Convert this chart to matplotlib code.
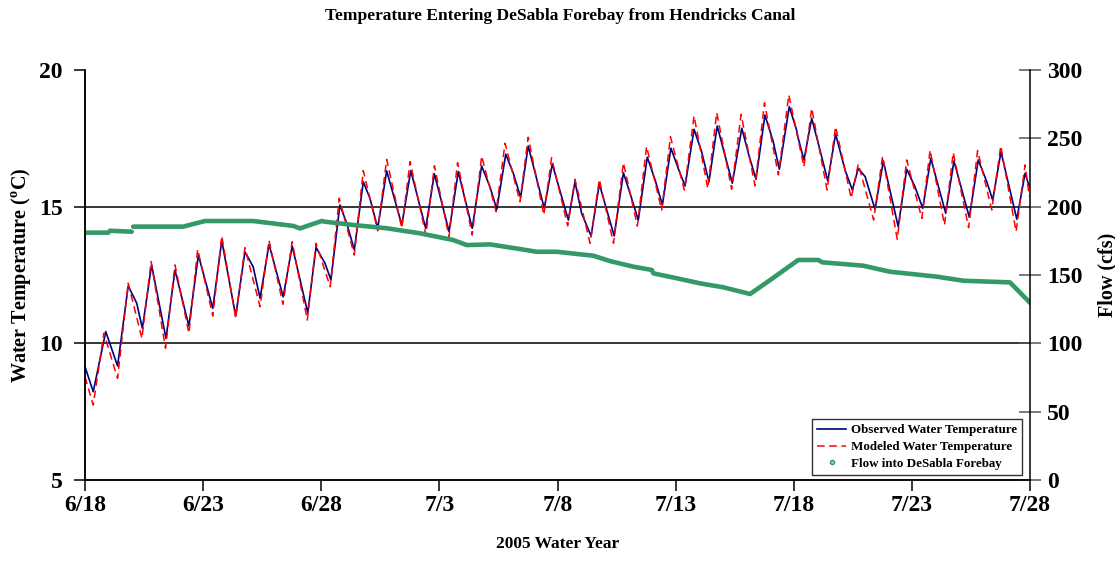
import numpy as np
import matplotlib
matplotlib.use('Agg')
import matplotlib.pyplot as plt
from matplotlib.lines import Line2D

plt.rcParams['font.family'] = ['Liberation Serif', 'DejaVu Serif']
plt.rcParams['font.weight'] = 'bold'
plt.rcParams['axes.labelweight'] = 'bold'
plt.rcParams['mathtext.fontset'] = 'custom'
plt.rcParams['mathtext.rm'] = 'Liberation Serif:bold'

# days since 6/18/2005 - daily peaks, troughs and shoulders
obs_day = [0.00, 0.35, 0.88, 1.38, 1.83, 2.19, 2.43, 2.82, 3.43, 3.81, 4.40, 4.80,
           5.41, 5.79, 6.38, 6.77, 7.12, 7.41, 7.79, 8.39, 8.77, 9.43, 9.78, 10.16,
           10.41, 10.79, 11.08, 11.40, 11.78, 12.06, 12.39, 12.77, 13.41, 13.79, 14.42,
           14.79, 15.41, 15.80, 16.39, 16.79, 17.14, 17.43, 17.81, 18.13, 18.44, 18.76,
           19.44, 19.78, 20.46, 20.74, 21.02, 21.42, 21.77, 22.40, 22.79, 23.07, 23.42,
           23.80, 24.13, 24.44, 24.80, 25.11, 25.40, 25.78, 26.10, 26.41, 26.76, 27.40,
           27.80, 28.08, 28.40, 28.78, 29.13, 29.39, 29.81, 30.12, 30.19, 30.43, 30.76,
           31.11, 31.44, 31.77, 32.17, 32.48, 32.73, 33.02, 33.44, 33.79, 34.42, 34.78,
           35.13, 35.46, 35.80, 36.43, 36.78, 37.43, 37.81, 38.17, 38.42, 38.77, 39.44,
           39.79, 39.97]
obs_temp = [9.15, 8.23, 10.43, 9.17, 12.10, 11.47, 10.55, 12.87, 10.18, 12.68, 10.63, 13.23,
            11.28, 13.76, 11.00, 13.35, 12.80, 11.65, 13.62, 11.70, 13.56, 11.12, 13.51, 12.93,
            12.32, 15.06, 14.39, 13.42, 15.91, 15.31, 14.21, 16.31, 14.33, 16.32, 14.21,
            16.20, 14.09, 16.28, 14.21, 16.49, 15.73, 14.90, 16.92, 16.22, 15.34, 17.22,
            14.94, 16.56, 14.51, 15.91, 14.76, 13.93, 15.83, 13.93, 16.24, 15.49, 14.51,
            16.81, 15.98, 15.06, 17.14, 16.40, 15.76, 17.83, 17.01, 15.91, 17.95, 15.86,
            17.87, 16.95, 16.00, 18.35, 17.38, 16.37, 18.66, 17.80, 17.50, 16.71, 18.23,
            17.07, 15.94, 17.66, 16.34, 15.61, 16.40, 16.10, 14.90, 16.67, 14.27, 16.37,
            15.73, 14.94, 16.77, 14.76, 16.67, 14.61, 16.71, 15.91, 15.24, 17.01, 14.54,
            16.22, 15.73]

mod_day = [0.00, 0.35, 0.80, 1.38, 1.83, 2.41, 2.80, 3.41, 3.81, 4.40, 4.77, 5.41,
           5.79, 6.38, 6.77, 7.41, 7.79, 8.38, 8.77, 9.41, 9.78, 10.38, 10.76, 11.40,
           11.78, 12.39, 12.77, 13.41, 13.76, 14.43, 14.79, 15.41, 15.77, 16.39, 16.79,
           17.40, 17.78, 18.41, 18.76, 19.42, 19.75, 20.43, 20.74, 21.38, 21.77, 22.37,
           22.79, 23.38, 23.77, 24.41, 24.78, 25.37, 25.78, 26.36, 26.74, 27.37, 27.77,
           28.36, 28.76, 29.35, 29.79, 30.43, 30.76, 31.41, 31.77, 32.43, 32.73, 33.38,
           33.76, 34.38, 34.78, 35.42, 35.77, 36.38, 36.75, 37.40, 37.78, 38.38, 38.76,
           39.41, 39.79, 39.97]
mod_temp = [8.78, 7.74, 10.37, 8.72, 12.20, 10.18, 12.99, 9.82, 12.87, 10.37, 13.44, 11.00,
            13.93, 10.92, 13.50, 11.34, 13.76, 11.43, 13.72, 10.85, 13.66, 12.07, 15.31, 13.23,
            16.32, 14.12, 16.73, 14.21, 16.65, 13.96, 16.50, 13.90, 16.61, 13.96, 16.85,
            14.82, 17.32, 15.18, 17.54, 14.70, 16.79, 14.30, 16.00, 13.66, 16.00, 13.66,
            16.61, 14.29, 17.20, 14.88, 17.56, 15.61, 18.32, 15.67, 18.44, 15.64, 18.38,
            15.76, 18.80, 16.16, 19.09, 16.46, 18.60, 15.61, 17.93, 15.31, 16.56, 14.51,
            16.85, 13.81, 16.71, 14.57, 17.07, 14.33, 16.98, 14.23, 17.05, 14.88, 17.22,
            14.09, 16.53, 15.37]

flow_day = [0.00, 0.99, 1.06, 1.98, 2.01, 2.04, 4.16, 5.08, 7.12, 8.82, 9.10, 10.02,
            10.16, 11.36, 12.77, 14.18, 15.59, 16.16, 17.14, 18.41, 19.12, 19.97, 21.52,
            22.22, 23.21, 23.99, 24.06, 25.05, 26.03, 27.02, 28.15, 29.00, 30.19, 31.04,
            31.20, 32.94, 34.07, 36.05, 37.18, 39.15, 40.00]
flow_cfs = [181.0, 181.0, 182.4, 181.7, np.nan, 185.4, 185.4, 189.5, 189.5, 185.9, 184.1, 189.5,
            189.0, 186.6, 184.2, 180.5, 175.6, 171.9, 172.4, 169.0, 167.0, 167.0, 164.1,
            160.2, 156.1, 153.7, 151.2, 147.6, 143.9, 141.0, 136.1, 146.3, 161.0, 161.0,
            159.3, 156.8, 152.4, 148.8, 145.8, 144.6, 129.7]

tick_labels = ['6/18', '6/23', '6/28', '7/3', '7/8', '7/13', '7/18', '7/23', '7/28']

fig = plt.figure(figsize=(11.15, 5.61), dpi=100)
ax = fig.add_axes([0.0762, 0.1444, 0.8476, 0.7308])
ax2 = ax.twinx()

ax.plot(obs_day, obs_temp, color='#000080', lw=1.2, solid_joinstyle='round')
ax.plot(mod_day, mod_temp, color='#ff0000', lw=1.1, ls=(0, (5, 3)))
ax2.plot(flow_day, flow_cfs, color='#339966', lw=3.3, solid_capstyle='round')

ax.set_xlim(0, 40)
ax.set_ylim(5, 20)
ax2.set_ylim(0, 300)
ax.set_xticks(np.arange(0, 41, 5))
ax.set_xticklabels(tick_labels)
ax.set_yticks([5, 10, 15, 20])
ax2.set_yticks(np.arange(0, 301, 50))

ax.grid(axis='y', color='black', lw=1.1)
yt = ax.yaxis.get_major_ticks()
yt[0].gridline.set_visible(False)
yt[-1].gridline.set_visible(False)

for a in (ax, ax2):
    a.spines['top'].set_visible(False)
    for s in a.spines.values():
        s.set_linewidth(1.1)
ax.spines['right'].set_visible(False)

ax.tick_params(axis='both', labelsize=17, length=8, width=1.1)
ax.tick_params(axis='x', pad=3)
ax.tick_params(axis='y', pad=8)
ax2.tick_params(axis='y', labelsize=17, direction='inout', length=16, width=1.1, pad=4,
                color='#555555')

ax.set_ylabel('Water Temperature ($^{\\rm o}$C)', fontsize=14.5)
ax.yaxis.set_label_coords(-0.055, 0.5)
ax2.set_ylabel('Flow (cfs)', fontsize=14.5)
ax2.yaxis.set_label_coords(1.071, 0.5)
ax.set_xlabel('2005 Water Year', fontsize=12.5, labelpad=14)
fig.suptitle('Temperature Entering DeSabla Forebay from Hendricks Canal', fontsize=12.5,
             fontweight='bold', x=0.502, y=0.985)

handles = [Line2D([], [], color='#000080', lw=1.2),
           Line2D([], [], color='#ff0000', lw=1.1, ls=(0, (5, 3))),
           Line2D([], [], color='#339966', marker='o', ls='none', ms=3, mfc='#a0d0b0')]
labels = ['Observed Water Temperature', 'Modeled Water Temperature', 'Flow into DeSabla Forebay']
leg = ax2.legend(handles, labels, loc='lower right', bbox_to_anchor=(0.992, 0.012),
                 borderaxespad=0, fontsize=9.4, fancybox=False, framealpha=1,
                 edgecolor='#333333', handlelength=2.2, handletextpad=0.4,
                 labelspacing=0.35, borderpad=0.4)
leg.get_frame().set_linewidth(1.0)

fig.savefig('out.png', dpi=100)
